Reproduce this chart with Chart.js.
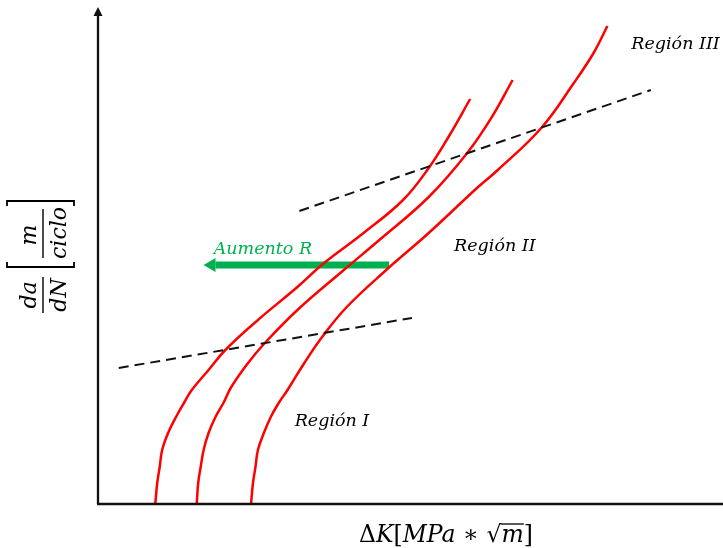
<!DOCTYPE html>
<html lang="es">
<head>
    <meta charset="UTF-8">
    <title>da/dN vs ΔK</title>
    <script src="https://cdn.jsdelivr.net/npm/chart.js"></script>
    <style>
        body {
            margin: 0;
            padding: 0;
            background: #fff;
        }
        #wrap {
            width: 723px;
            height: 548px;
        }
    </style>
</head>
<body>
    <div id="wrap"><canvas id="crackChart" width="723" height="548"></canvas></div>

    <script>
        // Curvas de crecimiento de grieta (unidades arbitrarias del dibujo)
        const curve1X = [58, 60, 62.5, 65, 71, 79, 87, 95, 112, 129, 162, 202, 229, 269, 309, 335, 355, 377];
        const curve1Y = [0, 21, 37, 54, 71, 87, 101, 114, 134, 154, 184, 217, 241, 271, 304, 336, 367, 405];

        const curve2X = [100, 101.5, 104, 107, 112, 119, 127, 135, 152, 169, 202, 249, 285, 335, 374, 399, 420];
        const curve2Y = [0, 21, 37, 54, 71, 87, 101, 117, 141, 161, 194, 234, 264, 307, 351, 387, 424];

        const curve3X = [155, 157, 159.5, 162, 168, 175, 183, 192, 209, 227, 252, 292, 335, 385, 405, 449, 482, 502, 516];
        const curve3Y = [0, 21, 37, 54, 71, 87, 101, 114, 141, 167, 197, 234, 271, 317, 334, 376, 421, 451, 478];

        // Rectas discontinuas (limites de la region II)
        const upperDashX = [204, 560];
        const upperDashY = [293, 414];
        const lowerDashX = [21, 318];
        const lowerDashY = [136, 186];

        // Flecha "Aumento R"
        const arrowX = [295, 119];
        const arrowY = [239, 239];
        const arrowHead = [115, 239];

        // Etiquetas
        const labelTexts = ['Región I', 'Región II', 'Región III', 'Aumento R'];
        const labelX = [237, 402, 585, 167];
        const labelY = [78, 253, 455, 250];
        const labelColors = ['#000', '#000', '#000', '#00B050'];

        const X_MAX = 625;
        const Y_MAX = 496;

        const FONT = '"DejaVu Serif"';

        const toPoints = (xs, ys) => xs.map((x, i) => ({ x: x, y: ys[i] }));

        const red = '#FF0000';
        const green = '#00B050';

        // curvas suavizadas con bezier (tension)
        const curveStyle = {
            borderColor: red,
            borderWidth: 2.5,
            pointRadius: 0,
            tension: 0.4,
            fill: false
        };

        const dashStyle = {
            borderColor: '#111',
            borderWidth: 2,
            borderDash: [10, 6],
            pointRadius: 0,
            tension: 0,
            fill: false
        };

        // Ejes, etiquetas y textos de los ejes
        const decorPlugin = {
            id: 'decor',
            afterDatasetsDraw(chart) {
                const ctx = chart.ctx;
                const xs = chart.scales.x;
                const ys = chart.scales.y;
                const x0 = xs.getPixelForValue(0);
                const y0 = ys.getPixelForValue(0);

                ctx.save();
                // ejes
                ctx.strokeStyle = '#111';
                ctx.lineWidth = 2.3;
                ctx.beginPath();
                ctx.moveTo(x0 - 1, y0);
                ctx.lineTo(chart.width, y0);
                ctx.moveTo(x0, y0);
                ctx.lineTo(x0, 14);
                ctx.stroke();
                ctx.fillStyle = '#111';
                ctx.beginPath();
                ctx.moveTo(x0, 7);
                ctx.lineTo(x0 - 4.5, 16);
                ctx.lineTo(x0 + 4.5, 16);
                ctx.closePath();
                ctx.fill();

                // etiquetas de regiones
                ctx.font = 'italic 17.5px ' + FONT;
                ctx.textAlign = 'center';
                ctx.textBaseline = 'alphabetic';
                labelTexts.forEach((t, i) => {
                    ctx.fillStyle = labelColors[i];
                    ctx.fillText(t, xs.getPixelForValue(labelX[i]), ys.getPixelForValue(labelY[i]));
                });

                // titulo eje x: ΔK[MPa ∗ √m]
                const parts = [
                    ['Δ', 'normal'], ['K', 'italic'], ['[', 'normal'], ['MPa', 'italic'],
                    [' ∗ ', 'normal'], ['√', 'normal'], ['m', 'italic'], [']', 'normal']
                ];
                const size = 23.5;
                ctx.fillStyle = '#000';
                ctx.textAlign = 'left';
                let total = 0;
                const widths = parts.map(p => {
                    ctx.font = p[1] + ' ' + size + 'px ' + FONT;
                    const w = ctx.measureText(p[0]).width;
                    total += w;
                    return w;
                });
                let cx = 446 - total / 2;
                const by = 542;
                parts.forEach((p, i) => {
                    ctx.font = p[1] + ' ' + size + 'px ' + FONT;
                    ctx.fillText(p[0], cx, by);
                    if (p[0] === 'm') {
                        ctx.lineWidth = 1.3;
                        ctx.strokeStyle = '#000';
                        ctx.beginPath();
                        ctx.moveTo(cx - 1, by - 18);
                        ctx.lineTo(cx + widths[i], by - 18);
                        ctx.stroke();
                    }
                    cx += widths[i];
                });

                // titulo eje y: da/dN [m/ciclo] girado
                ctx.translate(42, 257);
                ctx.rotate(-Math.PI / 2);
                ctx.font = 'italic 22px ' + FONT;
                ctx.textAlign = 'center';
                ctx.textBaseline = 'alphabetic';
                ctx.fillText('da', -38, -6);
                ctx.fillText('dN', -38, 24);
                ctx.fillText('m', 22, -6);
                ctx.fillText('ciclo', 24, 24);
                ctx.lineWidth = 1.4;
                ctx.beginPath();
                ctx.moveTo(-56, 1);
                ctx.lineTo(-20, 1);
                ctx.moveTo(-1, 1);
                ctx.lineTo(48, 1);
                ctx.stroke();
                ctx.lineWidth = 1.8;
                ctx.beginPath();
                ctx.moveTo(-5, -35);
                ctx.lineTo(-10, -35);
                ctx.lineTo(-10, 32);
                ctx.lineTo(-5, 32);
                ctx.moveTo(51, -35);
                ctx.lineTo(56, -35);
                ctx.lineTo(56, 32);
                ctx.lineTo(51, 32);
                ctx.stroke();
                ctx.restore();
            }
        };

        const ctx = document.getElementById('crackChart').getContext('2d');
        const crackChart = new Chart(ctx, {
            type: 'scatter',
            data: {
                datasets: [
                    { ...dashStyle, showLine: true, data: toPoints(upperDashX, upperDashY) },
                    { ...dashStyle, showLine: true, data: toPoints(lowerDashX, lowerDashY) },
                    { ...curveStyle, showLine: true, data: toPoints(curve1X, curve1Y) },
                    { ...curveStyle, showLine: true, data: toPoints(curve2X, curve2Y) },
                    { ...curveStyle, showLine: true, data: toPoints(curve3X, curve3Y) },
                    {
                        showLine: true,
                        borderColor: green,
                        borderWidth: 7,
                        borderCapStyle: 'butt',
                        pointRadius: 0,
                        tension: 0,
                        data: toPoints(arrowX, arrowY)
                    },
                    {
                        showLine: false,
                        data: [{ x: arrowHead[0], y: arrowHead[1] }],
                        pointStyle: 'triangle',
                        rotation: -90,
                        pointRadius: 8,
                        pointBackgroundColor: green,
                        pointBorderColor: green,
                        pointBorderWidth: 0
                    }
                ]
            },
            options: {
                responsive: false,
                animation: false,
                maintainAspectRatio: false,
                layout: {
                    padding: { left: 98, right: 0, top: 8, bottom: 44 }
                },
                plugins: {
                    legend: { display: false },
                    tooltip: { enabled: false }
                },
                scales: {
                    x: { type: 'linear', min: 0, max: X_MAX, display: false },
                    y: { type: 'linear', min: 0, max: Y_MAX, display: false }
                }
            },
            plugins: [decorPlugin]
        });
    </script>
</body>
</html>
